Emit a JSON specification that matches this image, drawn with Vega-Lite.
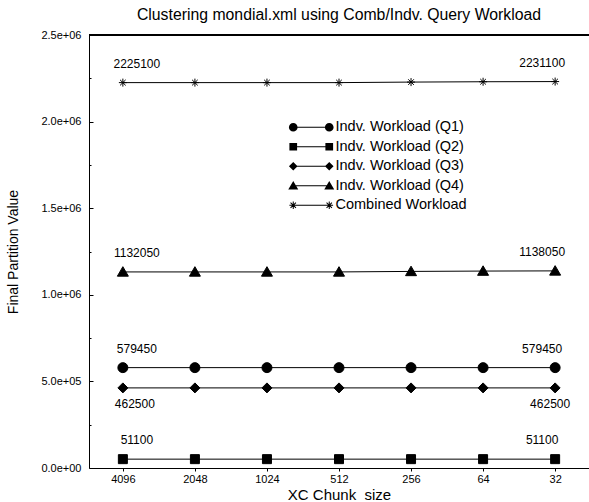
{
  "$schema": "https://vega.github.io/schema/vega-lite/v6.json",
  "width": 500,
  "height": 433,
  "autosize": {"type": "none"},
  "padding": {"left": 89, "top": 35, "right": 0, "bottom": 34},
  "background": "white",
  "title": {
    "text": "Clustering mondial.xml using Comb/Indv. Query Workload",
    "font": "Liberation Sans",
    "fontSize": 15.8,
    "fontWeight": "normal",
    "color": "black",
    "anchor": "middle",
    "frame": "group",
    "baseline": "alphabetic",
    "offset": -7
  },
  "config": {
    "view": {"stroke": null},
    "font": "Liberation Sans",
    "axis": {
      "grid": false,
      "domainColor": "black",
      "domainWidth": 1,
      "tickColor": "black",
      "tickWidth": 1,
      "labelColor": "black",
      "titleColor": "black",
      "labelFont": "Liberation Sans",
      "titleFont": "Liberation Sans",
      "labelFontSize": 11,
      "titleFontSize": 15,
      "titleFontWeight": "normal"
    }
  },
  "data": {
    "values": [
      {"chunk": "4096", "series": "Indv. Workload (Q1)", "value": 579450},
      {"chunk": "2048", "series": "Indv. Workload (Q1)", "value": 579450},
      {"chunk": "1024", "series": "Indv. Workload (Q1)", "value": 579450},
      {"chunk": "512", "series": "Indv. Workload (Q1)", "value": 579450},
      {"chunk": "256", "series": "Indv. Workload (Q1)", "value": 579450},
      {"chunk": "64", "series": "Indv. Workload (Q1)", "value": 579450},
      {"chunk": "32", "series": "Indv. Workload (Q1)", "value": 579450},
      {"chunk": "4096", "series": "Indv. Workload (Q2)", "value": 51100},
      {"chunk": "2048", "series": "Indv. Workload (Q2)", "value": 51100},
      {"chunk": "1024", "series": "Indv. Workload (Q2)", "value": 51100},
      {"chunk": "512", "series": "Indv. Workload (Q2)", "value": 51100},
      {"chunk": "256", "series": "Indv. Workload (Q2)", "value": 51100},
      {"chunk": "64", "series": "Indv. Workload (Q2)", "value": 51100},
      {"chunk": "32", "series": "Indv. Workload (Q2)", "value": 51100},
      {"chunk": "4096", "series": "Indv. Workload (Q3)", "value": 462500},
      {"chunk": "2048", "series": "Indv. Workload (Q3)", "value": 462500},
      {"chunk": "1024", "series": "Indv. Workload (Q3)", "value": 462500},
      {"chunk": "512", "series": "Indv. Workload (Q3)", "value": 462500},
      {"chunk": "256", "series": "Indv. Workload (Q3)", "value": 462500},
      {"chunk": "64", "series": "Indv. Workload (Q3)", "value": 462500},
      {"chunk": "32", "series": "Indv. Workload (Q3)", "value": 462500},
      {"chunk": "4096", "series": "Indv. Workload (Q4)", "value": 1132050},
      {"chunk": "2048", "series": "Indv. Workload (Q4)", "value": 1132050},
      {"chunk": "1024", "series": "Indv. Workload (Q4)", "value": 1132050},
      {"chunk": "512", "series": "Indv. Workload (Q4)", "value": 1132050},
      {"chunk": "256", "series": "Indv. Workload (Q4)", "value": 1135050},
      {"chunk": "64", "series": "Indv. Workload (Q4)", "value": 1137050},
      {"chunk": "32", "series": "Indv. Workload (Q4)", "value": 1138050},
      {"chunk": "4096", "series": "Combined Workload", "value": 2225100},
      {"chunk": "2048", "series": "Combined Workload", "value": 2225100},
      {"chunk": "1024", "series": "Combined Workload", "value": 2225100},
      {"chunk": "512", "series": "Combined Workload", "value": 2225100},
      {"chunk": "256", "series": "Combined Workload", "value": 2228100},
      {"chunk": "64", "series": "Combined Workload", "value": 2230100},
      {"chunk": "32", "series": "Combined Workload", "value": 2231100}
    ]
  },
  "encoding": {
    "x": {
      "field": "chunk",
      "type": "ordinal",
      "sort": ["4096", "2048", "1024", "512", "256", "64", "32"],
      "scale": {"type": "point", "padding": 0.47},
      "axis": {
        "title": "XC Chunk_size",
        "labelAngle": 0,
        "tickSize": 3,
        "labelPadding": 2,
        "titleY": 31,
        "titleBaseline": "alphabetic"
      }
    },
    "y": {
      "field": "value",
      "type": "quantitative",
      "scale": {"domain": [0, 2500000], "nice": false, "zero": true},
      "axis": {
        "title": "Final Partition Value",
        "titleFontSize": 14,
        "values": [0, 250000, 500000, 750000, 1000000, 1250000, 1500000, 1750000, 2000000, 2250000, 2500000],
        "labelExpr": "datum.value % 500000 === 0 ? replace(format(datum.value, '.1e'), 'e+', 'e+0') : ''",
        "tickSize": {"condition": {"test": "datum.value % 500000 === 0", "value": -4}, "value": -2},
        "labelPadding": 12,
        "titleAngle": -90,
        "titleX": -72,
        "titleBaseline": "alphabetic"
      }
    }
  },
  "resolve": {"scale": {"shape": "independent"}},
  "layer": [
    {
      "mark": {"type": "rule", "color": "black", "strokeWidth": 1},
      "encoding": {"y": {"datum": 2500000}, "x": null}
    },
    {
      "mark": {"type": "line", "color": "black", "strokeWidth": 1},
      "encoding": {"detail": {"field": "series"}}
    },
    {
      "mark": {"type": "point", "filled": true, "fill": "black", "stroke": "black", "strokeWidth": 1, "opacity": 1, "size": 100},
      "encoding": {
        "shape": {
          "field": "series",
          "type": "nominal",
          "scale": {
            "domain": ["Indv. Workload (Q1)", "Indv. Workload (Q2)", "Indv. Workload (Q3)", "Indv. Workload (Q4)", "Combined Workload"],
            "range": ["circle", "M-0.9,-0.9L0.9,-0.9L0.9,0.9L-0.9,0.9Z", "diamond", "M0,-1.05L1.1,0.85L-1.1,0.85Z", "M-0.8,0L0.8,0M0,-0.8L0,0.8M-0.56,-0.56L0.56,0.56M-0.56,0.56L0.56,-0.56"]
          },
          "legend": null
        }
      }
    },
    {
      "transform": [{"filter": "false"}],
      "mark": {"type": "point", "filled": true, "fill": "black", "opacity": 1, "size": 100},
      "encoding": {
        "shape": {
          "field": "series",
          "type": "nominal",
          "scale": {
            "domain": ["Indv. Workload (Q1)", "Indv. Workload (Q2)", "Indv. Workload (Q3)", "Indv. Workload (Q4)", "Combined Workload"],
            "range": [
              "M-3.6,-0.1L3.6,-0.1L3.6,0.1L-3.6,0.1ZM-4.47,0A0.87,0.87,0,1,1,-2.73,0A0.87,0.87,0,1,1,-4.47,0ZM2.73,0A0.87,0.87,0,1,1,4.47,0A0.87,0.87,0,1,1,2.73,0Z",
              "M-3.6,-0.1L3.6,-0.1L3.6,0.1L-3.6,0.1ZM-4.37,-0.77L-2.83,-0.77L-2.83,0.77L-4.37,0.77ZM2.83,-0.77L4.37,-0.77L4.37,0.77L2.83,0.77Z",
              "M-3.6,-0.1L3.6,-0.1L3.6,0.1L-3.6,0.1ZM-4.46,0L-3.6,-0.86L-2.74,0L-3.6,0.86ZM2.74,0L3.6,-0.86L4.46,0L3.6,0.86Z",
              "M-3.6,-0.1L3.6,-0.1L3.6,0.1L-3.6,0.1ZM-3.6,-0.95L-2.6,0.75L-4.6,0.75ZM3.6,-0.95L4.6,0.75L2.6,0.75Z",
              "M-4.37,-0.1L4.37,-0.1L4.37,0.1L-4.37,0.1ZM-3.7,-0.77L-3.5,-0.77L-3.5,0.77L-3.7,0.77ZM-4.07,-0.61L-2.99,0.47L-3.13,0.61L-4.21,-0.47ZM-4.21,0.47L-3.13,-0.61L-2.99,-0.47L-4.07,0.61ZM3.5,-0.77L3.7,-0.77L3.7,0.77L3.5,0.77ZM3.13,-0.61L4.21,0.47L4.07,0.61L2.99,-0.47ZM2.99,0.47L4.07,-0.61L4.21,-0.47L3.13,0.61Z"
            ]
          },
          "legend": {
            "title": null,
            "orient": "none",
            "legendX": 215,
            "legendY": 85,
            "padding": 0,
            "symbolSize": 100,
            "symbolOpacity": 1,
            "symbolFillColor": "black",
            "symbolStrokeWidth": 0,
            "labelFontSize": 14.5,
            "labelFont": "Liberation Sans",
            "labelColor": "black",
            "labelOffset": 17,
            "rowPadding": 4.5
          }
        }
      }
    },
    {
      "transform": [{"filter": "datum.chunk === '4096' && datum.series !== 'Indv. Workload (Q3)'"}],
      "mark": {"type": "text", "fontSize": 12, "font": "Liberation Sans", "color": "black", "align": "center", "baseline": "middle", "dx": 14, "dy": -19},
      "encoding": {"text": {"field": "value", "type": "quantitative", "format": "d"}}
    },
    {
      "transform": [{"filter": "datum.chunk === '32' && datum.series !== 'Indv. Workload (Q3)'"}],
      "mark": {"type": "text", "fontSize": 12, "font": "Liberation Sans", "color": "black", "align": "center", "baseline": "middle", "dx": -13, "dy": -19},
      "encoding": {"text": {"field": "value", "type": "quantitative", "format": "d"}}
    },
    {
      "transform": [{"filter": "datum.chunk === '4096' && datum.series === 'Indv. Workload (Q3)'"}],
      "mark": {"type": "text", "fontSize": 12, "font": "Liberation Sans", "color": "black", "align": "center", "baseline": "middle", "dx": 12, "dy": 16},
      "encoding": {"text": {"field": "value", "type": "quantitative", "format": "d"}}
    },
    {
      "transform": [{"filter": "datum.chunk === '32' && datum.series === 'Indv. Workload (Q3)'"}],
      "mark": {"type": "text", "fontSize": 12, "font": "Liberation Sans", "color": "black", "align": "center", "baseline": "middle", "dx": -5, "dy": 16},
      "encoding": {"text": {"field": "value", "type": "quantitative", "format": "d"}}
    }
  ]
}
